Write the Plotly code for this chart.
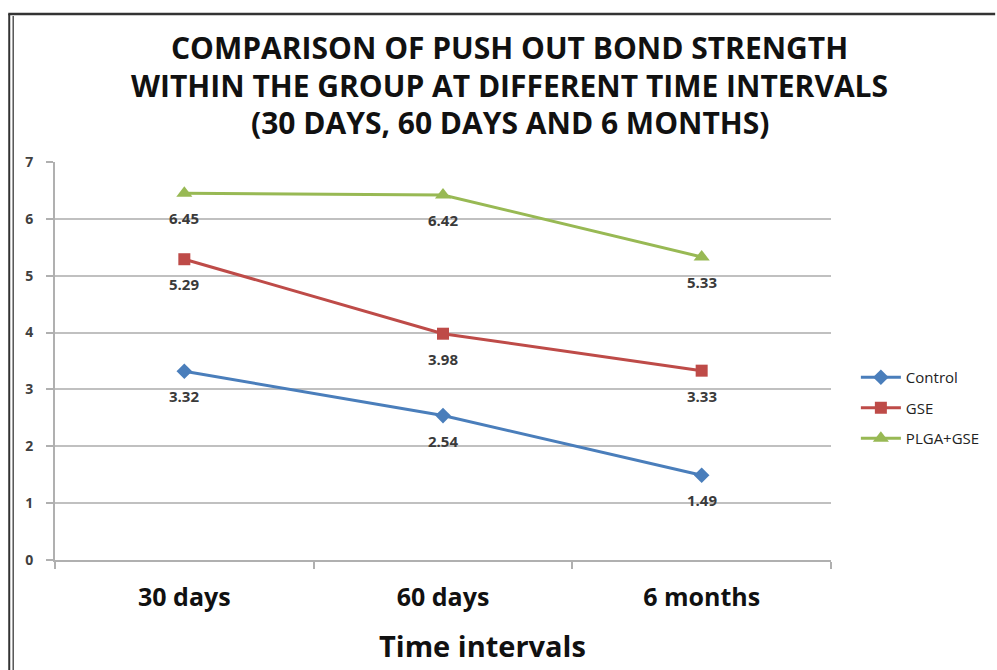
import plotly.graph_objects as go

# Push-out bond strength by group and time interval
intervals = ["30 days", "60 days", "6 months"]
control = [3.32, 2.54, 1.49]
gse = [5.29, 3.98, 3.33]
plga_gse = [6.45, 6.42, 5.33]

series = [
    ("Control", control, "#4a7ebb", "diamond", 12),
    ("GSE", gse, "#be4b48", "square", 12),
    ("PLGA+GSE", plga_gse, "#98b954", "triangle-up", 14),
]

W, H = 997, 670
L, R, T, B = 55, 835, 162, 560  # plot area in pixels

fig = go.Figure()
annotations = []
for name, vals, color, symbol, size in series:
    fig.add_trace(go.Scatter(
        x=intervals, y=vals, name=name, legendgroup=name,
        mode="lines+markers",
        line=dict(color=color, width=3),
        marker=dict(symbol=symbol, size=size, color=color),
    ))
    # value labels beneath each point
    for cat, v in zip(intervals, vals):
        annotations.append(dict(
            x=cat, y=v, xref="x", yref="y", text=f"{v:.2f}",
            showarrow=False, yshift=-25, xanchor="center", yanchor="middle",
            font=dict(family="Open Sans", size=15, color="#3a3a3a", weight="bold"),
        ))


def px_x(x):
    return (x - L) / (R - L)


def px_y(y):
    return (B - y) / (B - T)


title_lines = [
    ("COMPARISON OF PUSH OUT BOND STRENGTH", 48),
    ("WITHIN THE GROUP AT DIFFERENT TIME INTERVALS", 85),
    ("(30 DAYS, 60 DAYS AND 6 MONTHS)", 122),
]
for t, yy in title_lines:
    annotations.append(dict(
        text=t, xref="paper", yref="paper", x=px_x(512), y=px_y(yy),
        xanchor="center", yanchor="middle", showarrow=False,
        font=dict(family="Open Sans", size=30, color="#111111", weight="bold")))
annotations.append(dict(
    text="Time intervals", xref="paper", yref="paper", x=px_x(485), y=px_y(645),
    xanchor="center", yanchor="middle", showarrow=False,
    font=dict(family="Open Sans", size=29, color="#111111", weight="bold")))

frame = [
    dict(type="line", xref="paper", yref="paper",
         x0=px_x(8), x1=px_x(1000), y0=px_y(14), y1=px_y(14),
         line=dict(color="#333333", width=2.5)),
    dict(type="line", xref="paper", yref="paper",
         x0=px_x(9), x1=px_x(9), y0=px_y(14), y1=px_y(680),
         line=dict(color="#333333", width=2)),
    dict(type="line", xref="paper", yref="paper",
         x0=px_x(13), x1=px_x(13), y0=px_y(16), y1=px_y(680),
         line=dict(color="#555555", width=1.5)),
]

fig.update_layout(
    width=W, height=H,
    margin=dict(l=L, r=W - R, t=T, b=H - B),
    paper_bgcolor="white", plot_bgcolor="white",
    showlegend=True,
    legend=dict(x=px_x(860), y=px_y(361), xanchor="left", yanchor="top",
                font=dict(family="Open Sans", size=15, color="#222222"),
                tracegroupgap=8, itemwidth=40),
    annotations=annotations,
    shapes=frame,
    xaxis=dict(
        type="category", range=[-0.5, 2.5],
        showline=True, linecolor="#b0b0b0", linewidth=2,
        ticks="outside", ticklen=7, tickcolor="#b0b0b0", tickwidth=1.5,
        tickson="boundaries", showgrid=False, ticklabelstandoff=14,
        tickfont=dict(family="Open Sans", size=25, color="#111111", weight="bold"),
    ),
    yaxis=dict(
        range=[0, 7], dtick=1,
        showline=True, linecolor="#b0b0b0", linewidth=2,
        ticks="outside", ticklen=7, tickcolor="#b0b0b0", tickwidth=1.5,
        gridcolor="#c0c0c0", gridwidth=1.5, zeroline=False,
        ticklabelstandoff=10,
        tickfont=dict(family="Open Sans", size=14, color="#404040", weight="bold"),
    ),
)

fig.write_html("out.html")
